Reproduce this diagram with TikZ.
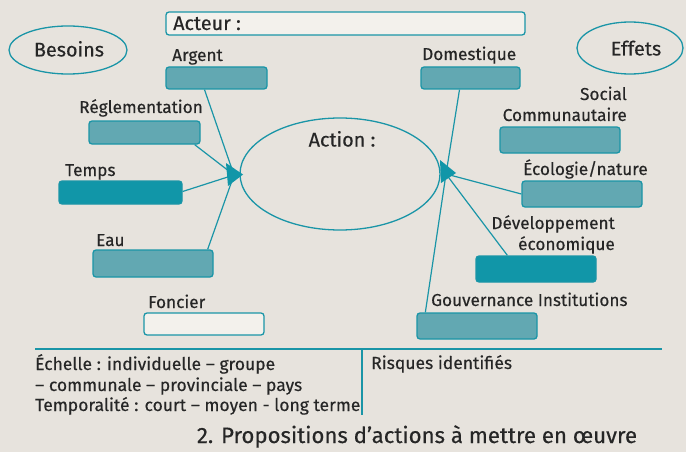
\documentclass[tikz,border=0pt]{standalone}
\usepackage{fontspec}
\setmainfont{Fira Sans}[FakeBold=0.35]
\usetikzlibrary{calc}
\definecolor{bgc}{HTML}{E7E3DD}
\definecolor{tealc}{HTML}{1A95A7}
\definecolor{darkf}{HTML}{1196A8}
\definecolor{medf}{HTML}{62A8B2}
\definecolor{lightf}{HTML}{F3F1EC}
\definecolor{txt}{HTML}{262626}
\tikzset{
  bx/.style={draw=tealc, line width=1.3pt, rounded corners=3pt, inner sep=0pt},
  medbox/.style={bx, fill=medf},
  darkbox/.style={bx, fill=darkf},
  whitebox/.style={bx, fill=lightf},
  lbl/.style={text=txt, inner sep=0pt, font=\fontsize{17.2}{20}\selectfont},
  tbl/.style={lbl, font=\fontsize{17.5}{20}\selectfont},
  big/.style={lbl, font=\fontsize{19.8}{23}\selectfont},
  conn/.style={draw=tealc, line width=1.2pt},
}
\begin{document}
\begin{tikzpicture}[x=1pt,y=-1pt]
\fill[bgc] (0,0) rectangle (686,452);
\useasboundingbox (0,0) rectangle (686,452);
% title box
\node[whitebox, minimum width=359pt, minimum height=23pt] (acteur) at (345.5,23.5) {};
\node[big, anchor=base west] (acteurT) at (173,30) {Acteur :};
% ellipses
\draw[tealc, line width=1.3pt] (68,50) ellipse [x radius=59, y radius=24];
\node[big, anchor=base] (besoins) at (69,56.5) {Besoins};
\draw[tealc, line width=1.3pt] (630,48) ellipse [x radius=53, y radius=26];
\node[big, anchor=base] (effets) at (636,55.5) {Effets};
\draw[tealc, line width=1.3pt] (340,174) ellipse [x radius=100, y radius=56];
\node[big, anchor=base] (action) at (342,146.5) {Action :};
% left boxes
\node[medbox, minimum width=101pt, minimum height=22pt] (argent) at (216.5,78) {};
\node[lbl, anchor=base west] (argentT) at (172,61) {Argent};
\node[medbox, minimum width=111pt, minimum height=23pt] (regl) at (144.5,132.5) {};
\node[lbl, anchor=base west] (reglT) at (79,113) {Réglementation};
\node[darkbox, minimum width=123pt, minimum height=23pt] (temps) at (120.5,192.5) {};
\node[lbl, anchor=base west] (tempsT) at (65,176) {Temps};
\node[medbox, minimum width=120pt, minimum height=27pt] (eau) at (153,263.5) {};
\node[lbl, anchor=base west] (eauT) at (96,246) {Eau};
\node[whitebox, minimum width=120pt, minimum height=22pt] (foncier) at (204,324) {};
\node[lbl, anchor=base west] (foncierT) at (148,308) {Foncier};
% right boxes
\node[medbox, minimum width=99pt, minimum height=22pt] (dom) at (470.5,78) {};
\node[lbl, anchor=base west] (domT) at (422,60) {Domestique};
\node[medbox, minimum width=120pt, minimum height=26pt] (social) at (560,140) {};
\node[lbl, anchor=base east] (socialT) at (627,100) {Social};
\node[lbl, anchor=base east] (commT) at (627,121) {Communautaire};
\node[medbox, minimum width=120pt, minimum height=26pt] (eco) at (582,194) {};
\node[lbl, anchor=base west] (ecoT) at (523,175) {Écologie/nature};
\node[darkbox, minimum width=120pt, minimum height=26pt] (dev) at (536,269) {};
\node[lbl, anchor=base east] (devT) at (615,229) {Développement};
\node[lbl, anchor=base east] (econT) at (615,250) {économique};
\node[medbox, minimum width=120pt, minimum height=26pt] (gouv) at (477,326) {};
\node[lbl, anchor=base west] (gouvT) at (431,306) {Gouvernance Institutions};
% hubs
\coordinate (lhub) at (234,175);
\coordinate (rhub) at (446,174);
\draw[conn] ($(argent.south)+(-12,0)$) -- (lhub);
\draw[conn] ($(regl.south east)+(-6,0)$) -- (lhub);
\draw[conn] ($(temps.east)+(0,-1)$) -- (lhub);
\draw[conn] ($(eau.north east)+(-6,0)$) -- (lhub);
\draw[conn] ($(dom.south)+(-11,0)$) -- (rhub);
\draw[conn] (eco.west) -- (rhub);
\draw[conn] ($(dev.north west)+(32,0)$) -- (rhub);
\draw[conn] ($(gouv.north west)+(9,0)$) -- (rhub);
\fill[darkf] (226,163) -- (243,174.5) -- (228,186) -- cycle;
\fill[darkf] (440,160) -- (456,173) -- (441,183) -- cycle;
% bottom table
\coordinate (hl) at (35,349);
\coordinate (hr) at (662,349);
\coordinate (vt) at (362,349);
\coordinate (vb) at (362,415);
\draw[tealc, line width=1.4pt] (hl) -- (hr);
\draw[tealc, line width=1.4pt] (vt) -- (vb);
\node[tbl, anchor=base west] (ech1) at (35,370) {Échelle : individuelle – groupe};
\node[tbl, anchor=base west] (ech2) at (35,391) {– communale – provinciale – pays};
\node[tbl, anchor=base west] (ech3) at (35,411) {Temporalité : court – moyen - long terme};
\node[tbl, anchor=base west] (risk) at (371,369) {Risques identifiés};
\node[lbl, anchor=base, font=\fontsize{22.2}{26}\selectfont] (cap) at (417,443) {2. Propositions d’actions à mettre en œuvre};
\end{tikzpicture}
\end{document}
